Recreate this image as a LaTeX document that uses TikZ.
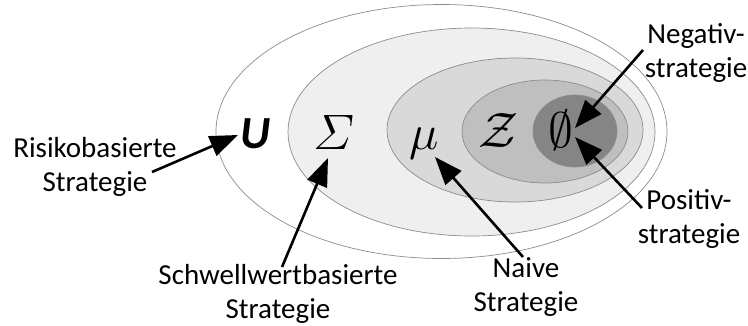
\documentclass[tikz,border=0pt]{standalone}
\usepackage{amsmath}
\usepackage{graphicx}
\usepackage{fontspec}
\setmainfont{Carlito}
\usetikzlibrary{arrows.meta}
\definecolor{eTwo}{HTML}{EFEFEF}
\definecolor{eThree}{HTML}{D9D9D9}
\definecolor{eFour}{HTML}{BFBFBF}
\definecolor{eFive}{HTML}{858585}
\definecolor{eLine}{HTML}{8C8C8C}
\newcommand{\bigsym}[1]{\scalebox{2}{\Huge$#1$}}
\tikzset{
  setellipse/.style={draw=eLine, line width=0.7pt},
  label/.style={align=center, inner sep=0pt, font=\fontsize{29}{34}\selectfont},
  sym/.style={inner sep=0pt, anchor=base},
  pointer/.style={line width=2.6pt, -{Triangle[length=28pt,width=21pt]}}
}
\begin{document}
\begin{tikzpicture}[x=1pt,y=-1pt]
\useasboundingbox (0,0) rectangle (748,325);
% nested sets
\draw[setellipse, fill=white] (441.5,131.5) ellipse [x radius=225.5, y radius=127];
\draw[setellipse, fill=eTwo] (471.5,132) ellipse [x radius=183.5, y radius=104];
\draw[setellipse, fill=eThree] (515,130) ellipse [x radius=128, y radius=72];
\draw[setellipse, fill=eFour] (545,131.5) ellipse [x radius=83, y radius=51.5];
\draw[setellipse, fill=eFive] (575,131) ellipse [x radius=42, y radius=36];
% symbols
\node[sym, font=\fontsize{46}{46}\selectfont\bfseries\itshape] (U) at (256,148) {U};
\node[sym] (Sigma) at (334,149) {\bigsym{\varSigma}};
\node[sym] (mu) at (424,149) {\bigsym{\mu}};
\node[sym] (Z) at (499,147) {\bigsym{\mathcal{Z}}};
\node[sym] (E) at (561,147) {\bigsym{\emptyset}};
% labels
\node[label] (risk) at (95,167) {Risikobasierte\\Strategie};
\node[label] (thr) at (278,293.5) {Schwellwertbasierte\\Strategie};
\node[label] (naive) at (526,287) {Naive\\Strategie};
\node[label] (neg) at (696,52.5) {Negativ-\\strategie};
\node[label] (pos) at (689,218.5) {Positiv-\\strategie};
% connector ends
\coordinate (riskS) at (152,172);
\coordinate (riskT) at (238,135);
\coordinate (thrS) at (282,267);
\coordinate (thrT) at (328,158);
\coordinate (naiveS) at (523,257);
\coordinate (naiveT) at (435,157);
\coordinate (negS) at (643,50);
\coordinate (negT) at (575,128);
\coordinate (posS) at (642,208);
\coordinate (posT) at (575,137);
\draw[pointer] (riskS) -- (riskT);
\draw[pointer] (thrS) -- (thrT);
\draw[pointer] (naiveS) -- (naiveT);
\draw[pointer] (negS) -- (negT);
\draw[pointer] (posS) -- (posT);
\end{tikzpicture}
\end{document}
